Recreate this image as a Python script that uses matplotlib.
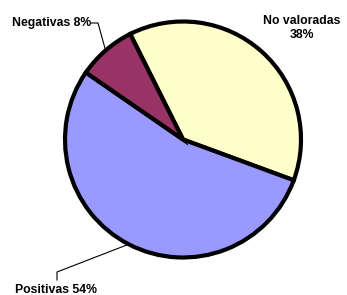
import numpy as np
import matplotlib.pyplot as plt

plt.rcParams['font.family'] = ['Liberation Sans', 'DejaVu Sans']

labels = ['No valoradas', 'Positivas', 'Negativas']
values = [38, 54, 8]
colors = ['#FFFFCC', '#9999FF', '#993366']

fig = plt.figure(figsize=(3.47, 2.95), dpi=100)
ax = fig.add_axes([0, 0, 1, 1])

cx, cy, r = 183, 155.5, 118
wedges, _ = ax.pie(values, colors=colors, startangle=116.6, counterclock=False,
                   center=(cx, cy), radius=r,
                   wedgeprops=dict(edgecolor='black', linewidth=3))
ax.set_xlim(0, 347)
ax.set_ylim(0, 295)
ax.set_aspect('equal')
ax.axis('off')

def edge_point(w):
    a = np.deg2rad((w.theta1 + w.theta2) / 2)
    return cx + r * np.cos(a), cy + r * np.sin(a)

fs = 8.8
# No valoradas: no leader
ax.text(302, 267, 'No valoradas\n38%', ha='center', va='center',
        fontsize=fs, fontweight='bold', linespacing=1.3)

# Negativas
px, py = edge_point(wedges[2])
tx, ty = 91, 272
ax.plot([tx, tx + 7, px], [ty, ty, py], color='black', lw=0.8)
ax.text(tx, ty, 'Negativas 8%', ha='right', va='center', fontsize=fs, fontweight='bold')

# Positivas
px, py = edge_point(wedges[1])
tx, ty = 57, 15
ax.plot([tx, tx, px], [ty, ty + 8, py], color='black', lw=0.8)
ax.text(tx - 1, 5, 'Positivas 54%', ha='center', va='center', fontsize=fs, fontweight='bold')

fig.savefig('out.png', dpi=100)
